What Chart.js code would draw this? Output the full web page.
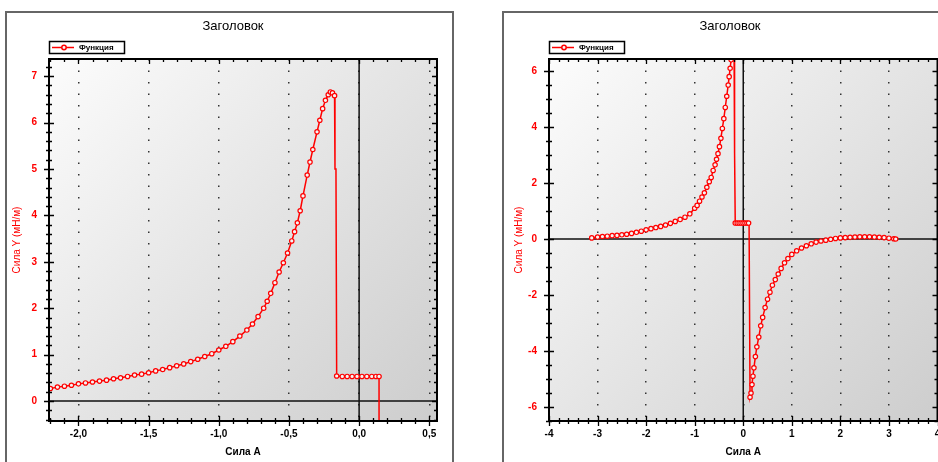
<!DOCTYPE html>
<html>
<head>
<meta charset="utf-8">
<script src="https://cdn.jsdelivr.net/npm/chart.js@4/dist/chart.umd.min.js"></script>
<style>
body { margin: 0; background: #fff; width: 938px; height: 462px; overflow: hidden; position: relative; }
.frame { position: absolute; top: 11px; height: 470px; border: 2px solid #666; background: #fff; }
#f1 { left: 5px; width: 445px; }
#f2 { left: 502px; width: 460px; }
canvas { position: absolute; left: 0; top: 0; }
</style>
</head>
<body>
<div class="frame" id="f1"><canvas id="left-chart" width="445" height="460"></canvas></div>
<div class="frame" id="f2"><canvas id="right-chart" width="445" height="460"></canvas></div>
<script>
const chartTitle = 'Заголовок';
const seriesName = 'Функция';
const xTitle = 'Сила А';
const yTitle = 'Сила Y (мН/м)';

// left chart: rising branch (with markers)
const leftRiseX = [-2.20, -2.15, -2.10, -2.05, -2.00, -1.95, -1.90, -1.85, -1.80, -1.75, -1.70, -1.65, -1.60, -1.55, -1.50, -1.45, -1.40, -1.35, -1.30, -1.25, -1.20, -1.15, -1.10, -1.05, -1.00, -0.95, -0.90, -0.85, -0.80, -0.76, -0.72, -0.68, -0.655, -0.63, -0.60, -0.57, -0.54, -0.51, -0.48, -0.46, -0.44, -0.42, -0.40, -0.37, -0.35, -0.33, -0.30, -0.28, -0.26, -0.24, -0.22, -0.205, -0.19, -0.175];
const leftRiseY = [0.27, 0.30, 0.32, 0.34, 0.37, 0.39, 0.41, 0.43, 0.45, 0.48, 0.50, 0.53, 0.56, 0.58, 0.61, 0.65, 0.68, 0.72, 0.76, 0.80, 0.85, 0.90, 0.96, 1.02, 1.10, 1.18, 1.28, 1.40, 1.53, 1.66, 1.82, 2.00, 2.15, 2.32, 2.55, 2.78, 2.98, 3.19, 3.45, 3.65, 3.84, 4.10, 4.42, 4.87, 5.15, 5.42, 5.80, 6.05, 6.30, 6.48, 6.60, 6.66, 6.64, 6.58];
// left chart: first drop (no markers)
const leftDrop1X = [-0.172, -0.165];
const leftDrop1Y = [5.00, 5.00];
// left chart: flat step (with markers)
const leftStepX = [-0.160, -0.12, -0.085, -0.05, -0.015, 0.02, 0.055, 0.09, 0.12, 0.142];
const leftStepY = [0.54, 0.53, 0.53, 0.53, 0.53, 0.53, 0.53, 0.53, 0.53, 0.53];
// left chart: final drop (no markers)
const leftDrop2X = [0.142];
const leftDrop2Y = [-1.0];

// right chart: left branch (with markers)
const rightRiseX = [-3.12, -3.0, -2.9, -2.8, -2.7, -2.6, -2.5, -2.4, -2.3, -2.2, -2.1, -2.0, -1.9, -1.8, -1.7, -1.6, -1.5, -1.4, -1.3, -1.2, -1.1, -1.0, -0.95, -0.9, -0.85, -0.8, -0.75, -0.7, -0.66, -0.62, -0.58, -0.55, -0.52, -0.49, -0.46, -0.43, -0.40, -0.37, -0.34, -0.31, -0.29, -0.27, -0.25, -0.23];
const rightRiseY = [0.04, 0.07, 0.09, 0.10, 0.12, 0.13, 0.15, 0.17, 0.20, 0.24, 0.28, 0.33, 0.37, 0.41, 0.45, 0.50, 0.56, 0.63, 0.70, 0.78, 0.90, 1.10, 1.20, 1.35, 1.50, 1.65, 1.85, 2.05, 2.20, 2.45, 2.65, 2.85, 3.05, 3.30, 3.60, 3.95, 4.30, 4.70, 5.10, 5.50, 5.80, 6.10, 6.40, 6.70];
const rightDrop1X = [-0.19, -0.185, -0.172];
const rightDrop1Y = [7.0, 3.07, 3.07];
const rightStepX = [-0.165, -0.125, -0.085, -0.045, -0.005, 0.035, 0.075, 0.11];
const rightStepY = [0.57, 0.57, 0.57, 0.57, 0.57, 0.57, 0.57, 0.57];
const rightDrop2X = [0.12];
const rightDrop2Y = [0.57];
// right chart: right branch (with markers)
const rightFallX = [0.14, 0.16, 0.18, 0.20, 0.22, 0.25, 0.28, 0.32, 0.36, 0.40, 0.45, 0.50, 0.55, 0.60, 0.66, 0.72, 0.78, 0.85, 0.92, 1.0, 1.1, 1.2, 1.3, 1.4, 1.5, 1.6, 1.7, 1.8, 1.9, 2.0, 2.1, 2.2, 2.3, 2.4, 2.5, 2.6, 2.7, 2.8, 2.9, 3.0, 3.1, 3.14];
const rightFallY = [-5.65, -5.50, -5.20, -4.90, -4.60, -4.20, -3.85, -3.50, -3.10, -2.80, -2.45, -2.15, -1.90, -1.65, -1.45, -1.25, -1.05, -0.85, -0.70, -0.55, -0.42, -0.32, -0.24, -0.17, -0.11, -0.07, -0.04, -0.01, 0.02, 0.04, 0.05, 0.06, 0.07, 0.08, 0.08, 0.08, 0.07, 0.06, 0.05, 0.03, 0.01, 0.0];

function pts(xs, ys) { return xs.map((x, i) => ({ x: x, y: ys[i] })); }

const red = '#ff0000';

function drawTicks(ctx, scale, a, minor, major, horizontal) {
    const n0 = Math.ceil(scale.min / minor - 1e-6);
    const n1 = Math.floor(scale.max / minor + 1e-6);
    const ratio = Math.round(major / minor);
    ctx.beginPath();
    for (let n = n0; n <= n1; n++) {
        const big = n % ratio === 0;
        const L = big ? 5 : 3;
        const p = Math.round(scale.getPixelForValue(n * minor)) + 0.5;
        if (horizontal) {
            ctx.moveTo(p, a.bottom - L); ctx.lineTo(p, a.bottom + L);
            ctx.moveTo(p, a.top); ctx.lineTo(p, a.top + L);
        } else {
            ctx.moveTo(a.left - L, p); ctx.lineTo(a.left + L, p);
            ctx.moveTo(a.right, p); ctx.lineTo(a.right - L, p);
        }
    }
    ctx.stroke();
}

const plotDeco = {
    id: 'plotDeco',
    beforeDraw(chart) {
        const { ctx, chartArea: a } = chart;
        const g = ctx.createLinearGradient(a.left, a.top, a.right, a.bottom);
        g.addColorStop(0, '#fcfcfc');
        g.addColorStop(1, '#cdcdcd');
        ctx.save();
        ctx.fillStyle = g;
        ctx.fillRect(a.left, a.top, a.width, a.height);
        ctx.restore();
    },
    beforeDatasetsDraw(chart) {
        const { ctx, chartArea: a, scales } = chart;
        const x0 = scales.x.getPixelForValue(0);
        const y0 = scales.y.getPixelForValue(0);
        ctx.save();
        ctx.strokeStyle = '#111';
        ctx.lineWidth = 1.5;
        ctx.beginPath();
        ctx.moveTo(x0, a.top); ctx.lineTo(x0, a.bottom);
        ctx.moveTo(a.left, y0); ctx.lineTo(a.right, y0);
        ctx.stroke();
        ctx.restore();
    },
    afterDraw(chart, args, opts) {
        const { ctx, chartArea: a, scales } = chart;
        ctx.save();
        ctx.strokeStyle = '#000';
        ctx.lineWidth = 2;
        ctx.strokeRect(a.left, a.top, a.width, a.height);
        ctx.lineWidth = 1.3;
        drawTicks(ctx, scales.x, a, opts.xMinor, opts.xMajor, true);
        drawTicks(ctx, scales.y, a, opts.yMinor, opts.yMajor, false);

        // title
        ctx.fillStyle = '#000';
        ctx.font = '13px "Liberation Sans", Arial, sans-serif';
        ctx.textAlign = 'center';
        ctx.textBaseline = 'middle';
        ctx.fillText(chartTitle, 226, 13);

        // legend
        const lx = a.left, ly = 28;
        ctx.lineWidth = 1.5;
        ctx.strokeRect(lx + 0.5, ly + 0.5, 75, 12);
        ctx.strokeStyle = red;
        ctx.lineWidth = 1.5;
        ctx.beginPath();
        ctx.moveTo(lx + 3, ly + 6.5); ctx.lineTo(lx + 25, ly + 6.5);
        ctx.stroke();
        ctx.fillStyle = '#f4f4f4';
        ctx.beginPath();
        ctx.arc(lx + 15, ly + 6.5, 2.2, 0, Math.PI * 2);
        ctx.fill(); ctx.stroke();
        ctx.fillStyle = '#000';
        ctx.font = 'bold 8px "Liberation Sans", Arial, sans-serif';
        ctx.textAlign = 'left';
        ctx.fillText(chart.data.datasets[1].label, lx + 30, ly + 7);
        ctx.restore();
    }
};

function makeChart(canvasId, cfg) {
    const fmt = v => String(cfg.fmt(v)).replace('.', ',');
    return new Chart(document.getElementById(canvasId).getContext('2d'), {
        type: 'scatter',
        data: {
            datasets: [{
                label: 'path',
                data: cfg.path,
                showLine: true,
                borderColor: red,
                borderWidth: 1.5,
                pointRadius: 0,
                order: 2
            }, {
                label: seriesName,
                data: cfg.marks,
                showLine: false,
                pointStyle: 'circle',
                pointRadius: 2.2,
                borderWidth: 1.2,
                borderColor: red,
                backgroundColor: '#f4f4f4',
                order: 1
            }]
        },
        options: {
            responsive: false,
            animation: false,
            events: [],
            layout: { padding: { top: 46, right: cfg.padRight, left: 0, bottom: 0 } },
            plugins: {
                legend: { display: false },
                title: { display: false },
                tooltip: { enabled: false },
                plotDeco: cfg.ticks
            },
            scales: {
                x: {
                    type: 'linear',
                    min: cfg.xMin, max: cfg.xMax,
                    afterFit: s => { s.height = 52; },
                    ticks: {
                        stepSize: cfg.ticks.xMajor,
                        includeBounds: false,
                        padding: 7,
                        color: '#000',
                        maxRotation: 0,
                        font: { family: '"Liberation Sans", Arial, sans-serif', size: 10, weight: 'bold' },
                        callback: v => fmt(v)
                    },
                    grid: { color: '#333', lineWidth: 1.5, drawTicks: false },
                    border: { display: false, dash: [1.5, 10] },
                    title: {
                        display: true, text: xTitle, color: '#000',
                        font: { family: '"Liberation Sans", Arial, sans-serif', size: 10, weight: 'bold' },
                        padding: { top: 0, bottom: 15 }
                    }
                },
                y: {
                    type: 'linear',
                    min: cfg.yMin, max: cfg.yMax,
                    afterFit: s => { s.width = cfg.yWidth; },
                    ticks: {
                        stepSize: cfg.ticks.yMajor,
                        includeBounds: false,
                        padding: 12,
                        color: red,
                        font: { family: '"Liberation Sans", Arial, sans-serif', size: 10, weight: 'bold' },
                        callback: v => String(v)
                    },
                    grid: { drawOnChartArea: false, drawTicks: false },
                    border: { display: false },
                    title: {
                        display: true, text: yTitle, color: red,
                        font: { family: '"Liberation Sans", Arial, sans-serif', size: 10 },
                        padding: { top: cfg.yTitlePad, bottom: 0 }
                    }
                }
            }
        },
        plugins: [plotDeco]
    });
}

makeChart('left-chart', {
    path: pts(leftRiseX.concat(leftDrop1X, leftStepX, leftDrop2X), leftRiseY.concat(leftDrop1Y, leftStepY, leftDrop2Y)),
    marks: pts(leftRiseX.concat(leftStepX), leftRiseY.concat(leftStepY)),
    xMin: -2.21, xMax: 0.555, yMin: -0.43, yMax: 7.37,
    yWidth: 42, padRight: 15, yTitlePad: 4,
    fmt: v => v.toFixed(1),
    ticks: { xMinor: 0.1, xMajor: 0.5, yMinor: 0.2, yMajor: 1 }
});

makeChart('right-chart', {
    path: pts(rightRiseX.concat(rightDrop1X, rightStepX, rightDrop2X, rightFallX), rightRiseY.concat(rightDrop1Y, rightStepY, rightDrop2Y, rightFallY)),
    marks: pts(rightRiseX.concat(rightStepX, rightFallX), rightRiseY.concat(rightStepY, rightFallY)),
    xMin: -4, xMax: 4, yMin: -6.5, yMax: 6.43,
    yWidth: 45, padRight: 11.5, yTitlePad: 9,
    fmt: v => v,
    ticks: { xMinor: 0.2, xMajor: 1, yMinor: 0.5, yMajor: 2 }
});
</script>
</body>
</html>
